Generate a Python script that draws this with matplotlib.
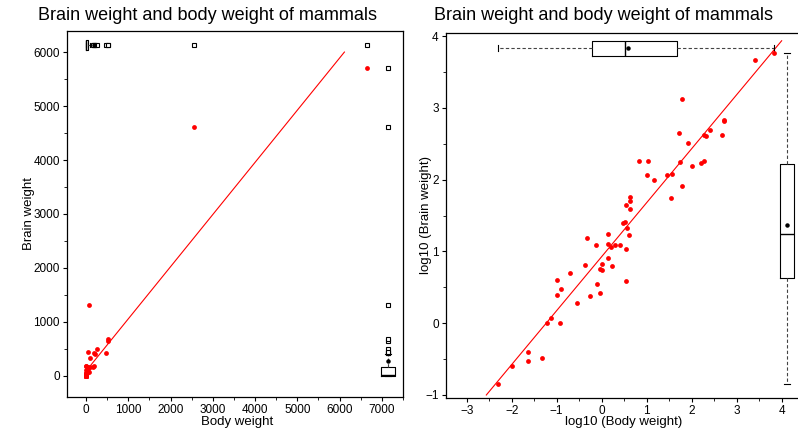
import numpy as np
import matplotlib
matplotlib.use("Agg")
import matplotlib.pyplot as plt
from matplotlib.ticker import MultipleLocator

plt.rcParams['font.family'] = ['Liberation Sans', 'DejaVu Sans']

# Mammals: body weight (kg) and brain weight (g)
animals = ["Arctic fox", "Owl monkey", "Mountain beaver", "Cow", "Grey wolf", "Goat",
           "Roe deer", "Guinea pig", "Verbet", "Chinchilla", "Ground squirrel",
           "Arctic ground squirrel", "African giant pouched rat", "Lesser short-tailed shrew",
           "Star-nosed mole", "Nine-banded armadillo", "Tree hyrax", "N.A. opossum",
           "Asian elephant", "Big brown bat", "Donkey", "Horse", "European hedgehog",
           "Patas monkey", "Cat", "Galago", "Genet", "Giraffe", "Gorilla", "Grey seal",
           "Rock hyrax-a", "Human", "African elephant", "Water opossum", "Rhesus monkey",
           "Kangaroo", "Yellow-bellied marmot", "Golden hamster", "Mouse", "Little brown bat",
           "Slow loris", "Okapi", "Rabbit", "Sheep", "Jaguar", "Chimpanzee", "Baboon",
           "Desert hedgehog", "Giant armadillo", "Rock hyrax-b", "Raccoon", "Rat",
           "E. American mole", "Mole rat", "Musk shrew", "Pig", "Echidna", "Brazilian tapir",
           "Tenrec", "Phalanger", "Tree shrew", "Red fox"]
body = [3.385, 0.48, 1.35, 465, 36.33, 27.66, 14.83, 1.04, 4.19, 0.425, 0.101, 0.92,
        1.0, 0.005, 0.06, 3.5, 2.0, 1.7, 2547, 0.023, 187.1, 521, 0.785, 10, 3.3, 0.2,
        1.41, 529, 207, 85, 0.75, 62, 6654, 3.5, 6.8, 35, 4.05, 0.12, 0.023, 0.01, 1.4,
        250, 2.5, 55.5, 100, 52.16, 10.55, 0.55, 60, 3.6, 4.288, 0.28, 0.075, 0.122,
        0.048, 192, 3, 160, 0.9, 1.62, 0.104, 4.235]
brain = [44.5, 15.5, 8.1, 423, 119.5, 115, 98.2, 5.5, 58, 6.4, 4, 5.7, 6.6, 0.14, 1,
         10.8, 12.3, 6.3, 4603, 0.3, 419, 655, 3.5, 115, 25.6, 5, 17.5, 680, 406, 325,
         12.3, 1320, 5712, 3.9, 179, 56, 17, 1, 0.4, 0.25, 12.5, 490, 12.1, 175, 157,
         440, 179.5, 2.4, 81, 21, 39.2, 1.9, 1.2, 3, 0.33, 180, 25, 169, 2.6, 11.4, 2.5,
         50.4]

body = np.array(body)
brain = np.array(brain)
lbody = np.log10(body)
lbrain = np.log10(brain)

title = "Brain weight and body weight of mammals"

W, H = 798, 430
fig = plt.figure(figsize=(W / 100, H / 100), dpi=100)


def px_axes(l, t, r, b):
    return fig.add_axes([l / W, 1 - b / H, (r - l) / W, (b - t) / H])


box_kw = dict(
    showmeans=True, manage_ticks=False, patch_artist=False,
    boxprops=dict(color='black', linewidth=0.8),
    medianprops=dict(color='black', linewidth=1.0),
    whiskerprops=dict(color='#444444', linewidth=0.8, linestyle=(0, (3, 2))),
    capprops=dict(color='black', linewidth=0.8),
    meanprops=dict(marker='o', markerfacecolor='black', markeredgecolor='black',
                   markersize=2.2),
    flierprops=dict(marker='s', markerfacecolor='white', markeredgecolor='black',
                    markersize=3.2, markeredgewidth=0.8),
)


def style(ax, xmaj, ymaj):
    ax.xaxis.set_major_locator(MultipleLocator(xmaj))
    ax.xaxis.set_minor_locator(MultipleLocator(xmaj / 2))
    ax.yaxis.set_major_locator(MultipleLocator(ymaj))
    ax.yaxis.set_minor_locator(MultipleLocator(ymaj / 2))
    ax.tick_params(which='major', length=3.2, width=0.8, labelsize=8.5, pad=2)
    ax.tick_params(which='minor', length=2, width=0.6)
    for s in ax.spines.values():
        s.set_linewidth(0.9)


# ---- raw scale ----
ax1 = px_axes(67, 31, 403, 397)
m1, b1 = np.polyfit(body, brain, 1)
x1 = np.array([body.min(), (6000 - b1) / m1])
ax1.plot(x1, m1 * x1 + b1, color='red', linewidth=0.8, zorder=2)
ax1.scatter(body, brain, s=12, color='red', linewidths=0, zorder=3)
ax1.boxplot(body, positions=[6130], widths=185, orientation='horizontal',
            capwidths=90, **box_kw)
ax1.boxplot(brain, positions=[7146], widths=330, capwidths=150, **box_kw)
ax1.set_xlim(-450, 7500)
ax1.set_ylim(-390, 6390)
style(ax1, 1000, 1000)
ax1.set_xlabel("Body weight", fontsize=9.5)
ax1.set_ylabel("Brain weight", fontsize=9.5)
ax1.xaxis.set_label_coords(0.506, -0.052)
ax1.yaxis.set_label_coords(-0.095, 0.5)
fig.text(207 / W, 1 - 15 / H, title, ha='center', va='center', fontsize=13)

# ---- log scale ----
ax2 = px_axes(446, 33, 801, 398)
m2, b2 = np.polyfit(lbody, lbrain, 1)
x2 = np.array([(-1 - b2) / m2, 4.0])
ax2.plot(x2, m2 * x2 + b2, color='red', linewidth=0.8, zorder=2)
ax2.scatter(lbody, lbrain, s=12, color='red', linewidths=0, zorder=3)
ax2.boxplot(lbody, positions=[3.83], widths=0.21, orientation='horizontal',
            capwidths=0.08, **box_kw)
ax2.boxplot(lbrain, positions=[4.12], widths=0.33, capwidths=0.12, **box_kw)
ax2.set_xlim(-3.46, 4.43)
ax2.set_ylim(-1.042, 4.042)
style(ax2, 1, 1)
ax2.set_xlabel("log10 (Body weight)", fontsize=9.5)
ax2.set_ylabel("log10 (Brain weight)", fontsize=9.5)
ax2.xaxis.set_label_coords(0.501, -0.05)
ax2.yaxis.set_label_coords(-0.039, 0.5)
fig.text(604 / W, 1 - 15 / H, title, ha='center', va='center', fontsize=13)

fig.savefig("out.png", dpi=100)
